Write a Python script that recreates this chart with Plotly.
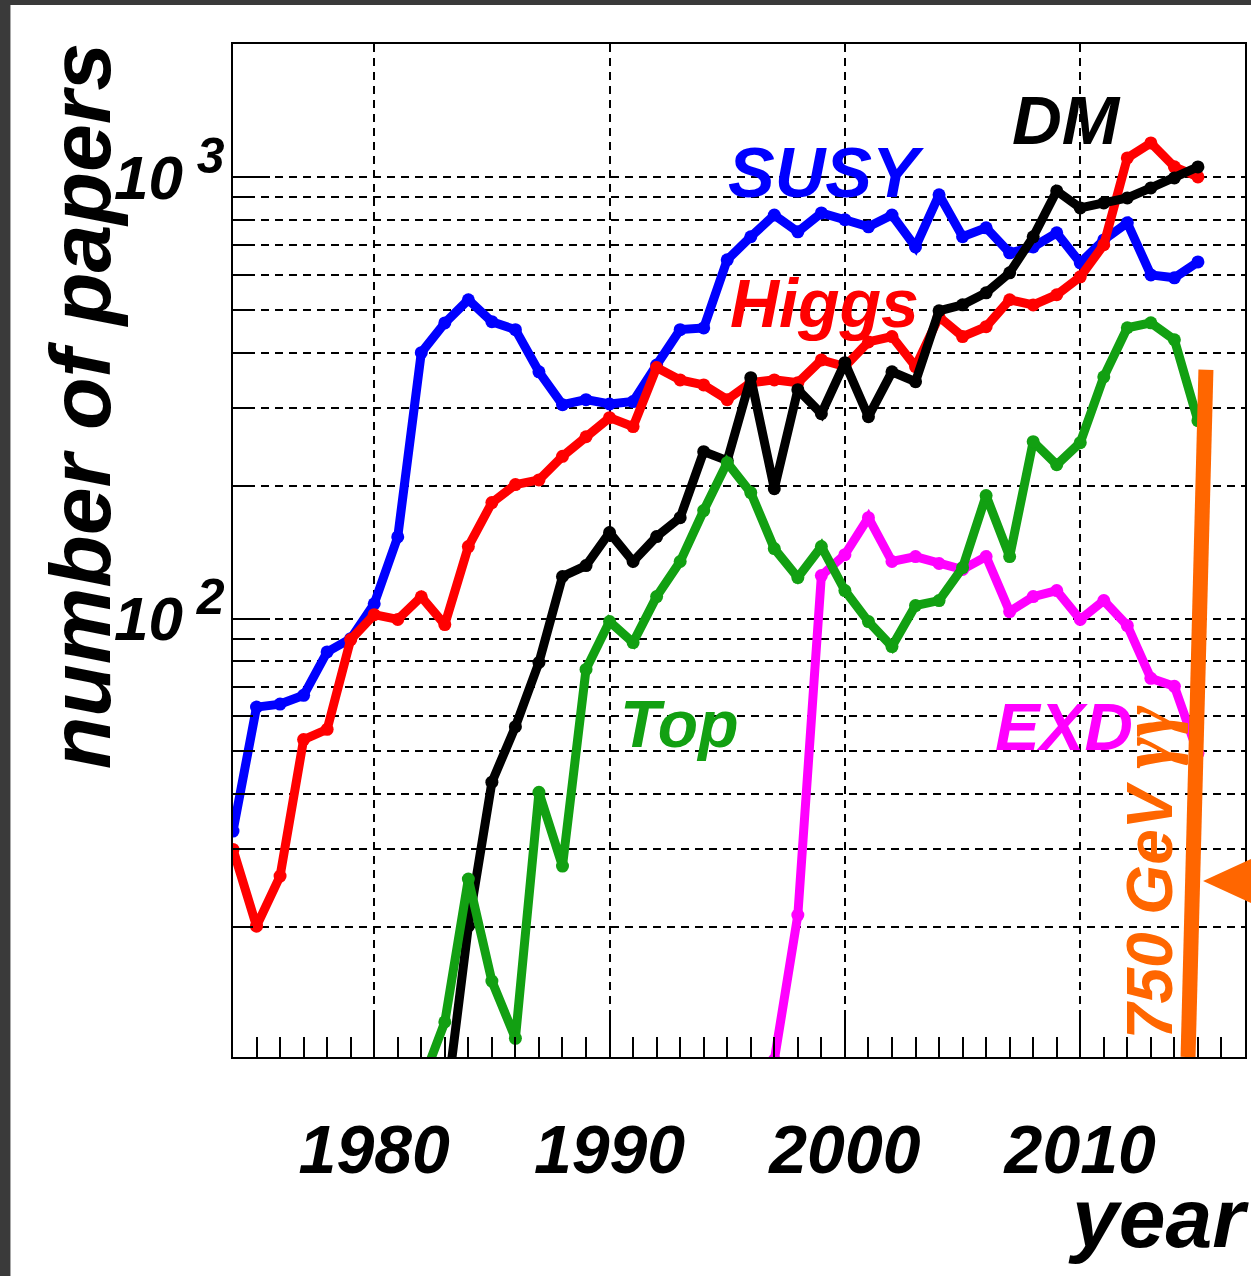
import plotly.graph_objects as go

# ---------------- data ----------------
SUSY_YEARS = list(range(1974, 2016))
SUSY = [33, 63, 64, 67, 84, 90, 108, 153, 400, 467, 527, 470, 451, 362, 305, 313,
        306, 310, 375, 451, 455, 649, 732, 820, 751, 829, 800, 771, 820, 694, 911,
        732, 767, 673, 694, 747, 639, 720, 787, 600, 591, 642]

HIGGS_YEARS = list(range(1974, 2016))
HIGGS = [30.0, 20.1, 26.1, 53.2, 56.1, 89.6, 102, 99.5, 112, 96.9, 145.5, 183, 201,
         206, 233, 258, 285, 272, 370, 347, 338, 313, 342, 347, 342, 385, 372, 423,
         435, 372, 482, 435, 458, 527, 513, 541, 594, 702, 1104, 1194, 1054, 1000]

DM_YEARS = list(range(1983, 2016))
DM = [7.5, 20.1, 42.6, 56.9, 79.5, 124.5, 131.8, 156.5, 134.6, 153.3, 169.2, 238.7,
      227.8, 351, 196.8, 329.7, 290.9, 379.6, 286.4, 362, 343.8, 497.6, 513.3, 546.5,
      606.5, 731.6, 929.6, 850.9, 873.4, 896.3, 944.4, 994.7, 1053.5]

TOP_YEARS = list(range(1982, 2016))
TOP = [8.8, 12.2, 25.7, 15.1, 11.2, 40.4, 27.5, 76.7, 98.4, 88.2, 112.1, 134.6, 175.6,
       225.4, 192.8, 144, 123.8, 145.5, 115.7, 98.4, 86.4, 107, 109.8, 130.4, 189.8,
       138.1, 251.5, 223, 250.2, 352.7, 455.4, 467.4, 427.8, 280.5]

EXD_YEARS = list(range(1997, 2016))
EXD = [10, 21.3, 125.1, 139.5, 169.2, 134.6, 138.1, 133.2, 129.1, 138.1, 103.7, 112.1,
       115.7, 99.5, 109.8, 96.4, 73.2, 70.2, 49.5]

# 750 GeV diphoton marker line (year, papers) endpoints
MARK_YEARS = [2014.58, 2015.34]
MARK_PAPERS = [10.16, 366]

X_TICKS = [1980, 1990, 2000, 2010]
X_TICK_TEXT = ["1980", "1990", "2000", "2010"]
Y_TICKS = [100, 1000]
Y_TICK_TEXT = ["10<sup><span style='font-size:50px'>\u00a02</span></sup>",
               "10<sup><span style='font-size:50px'>\u00a03</span></sup>"]
Y_MINOR = [20, 30, 40, 50, 60, 70, 80, 90, 200, 300, 400, 500, 600, 700, 800, 900]

FONT = "Liberation Sans, Arial, sans-serif"

series = [
    ("SUSY", SUSY_YEARS, SUSY, "#0000ff"),
    ("Higgs", HIGGS_YEARS, HIGGS, "#ff0000"),
    ("DM", DM_YEARS, DM, "#000000"),
    ("EXD", EXD_YEARS, EXD, "#ff00ff"),
    ("Top", TOP_YEARS, TOP, "#12a012"),
]

fig = go.Figure()
for name, xs, ys, col in series:
    fig.add_trace(go.Scatter(
        x=xs, y=ys, mode="lines+markers", name=name,
        line=dict(color=col, width=9),
        marker=dict(color=col, size=13, symbol="circle"),
        showlegend=False,
    ))

fig.add_trace(go.Scatter(
    x=MARK_YEARS, y=MARK_PAPERS, mode="lines", name="750 GeV",
    line=dict(color="#ff6600", width=15), showlegend=False, hoverinfo="skip",
))

# plot area pixel geometry helpers (for label placement only)
PX0, PX1, PY0, PY1 = 233, 1247, 44, 1057
def px(x):
    return (x - PX0) / (PX1 - PX0)
def py(y):
    return (PY1 - y) / (PY1 - PY0)

def lab(text, x, y, color, size=68, angle=0, xanchor="center", yanchor="middle"):
    fig.add_annotation(
        text=text, x=px(x), y=py(y), xref="paper", yref="paper",
        showarrow=False, textangle=angle, xanchor=xanchor, yanchor=yanchor,
        font=dict(family=FONT, size=size, color=color, weight="bold", style="italic"),
    )

lab("SUSY", 827, 173, "#0000ff", 70)
lab("Higgs", 826, 303, "#ff0000", 68)
lab("DM", 1068, 121, "#000000", 69)
lab("Top", 680, 724, "#12a012", 66)
lab("EXD", 1066, 726, "#ff00ff", 67)
lab("750 GeV <span style='font-family:Liberation Serif;font-size:76px'>\u03b3\u03b3</span>",
    1148, 872, "#ff6600", 64, angle=-90)
lab("number of papers", 80, 406, "#000000", 86, angle=-90)
lab("year", 1068, 1218, "#000000", 84, xanchor="left")

# background frame: dark strip left/top, white page
fig.add_shape(type="rect", xref="paper", yref="paper",
              x0=px(10), x1=px(1300), y0=py(1320), y1=py(5),
              fillcolor="white", line=dict(width=0), layer="below")
# orange arrowhead at the right edge
fig.add_shape(type="path", xref="paper", yref="paper",
              path=f"M {px(1205)} {py(881)} L {px(1290)} {py(842)} L {px(1290)} {py(920)} Z",
              fillcolor="#ff6600", line=dict(width=0), layer="above")

fig.update_layout(
    width=1251, height=1276, autosize=False,
    margin=dict(l=PX0, r=1251 - PX1, t=PY0, b=1276 - PY1, pad=0),
    paper_bgcolor="#3a3a3a", plot_bgcolor="white",
    showlegend=False,
)

fig.update_xaxes(
    range=[1974, 2017], showline=True, mirror=True, linecolor="black", linewidth=2,
    tickmode="array", tickvals=X_TICKS, ticktext=X_TICK_TEXT,
    ticks="inside", ticklen=40, tickwidth=1.5, tickcolor="black",
    showgrid=True, gridcolor="black", gridwidth=1.5, griddash="8px,6px",
    zeroline=False,
    tickfont=dict(family=FONT, size=68, color="black", weight="bold", style="italic"),
    ticklabelstandoff=32,
    minor=dict(dtick=1, tick0=1974, ticks="inside", ticklen=20, tickwidth=1.5,
               tickcolor="black", showgrid=False),
)
fig.update_yaxes(
    type="log", range=[1.007, 3.301], showline=True, mirror=True, linecolor="black",
    linewidth=2,
    tickmode="array", tickvals=Y_TICKS, ticktext=Y_TICK_TEXT,
    ticks="inside", ticklen=37, tickwidth=1.5, tickcolor="black",
    showgrid=True, gridcolor="black", gridwidth=1.5, griddash="8px,6px",
    zeroline=False,
    tickfont=dict(family=FONT, size=62, color="black", weight="bold", style="italic"),
    ticklabelstandoff=-6,
    minor=dict(tickmode="array", tickvals=Y_MINOR, ticks="inside", ticklen=20,
               tickwidth=1.5, tickcolor="black", showgrid=True, gridcolor="black",
               gridwidth=1.5, griddash="8px,6px"),
)

fig.write_html("out.html")
